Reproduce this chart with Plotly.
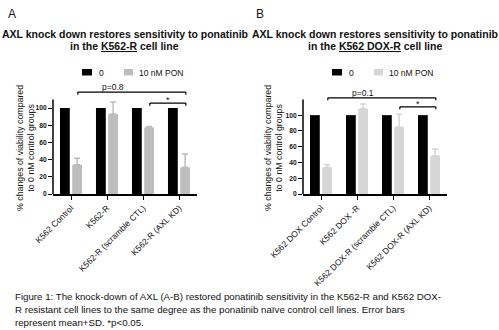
import plotly.graph_objects as go

# ---------------- data ----------------
cats_a = ["K562 Control", "K562-R", "K562-R (scramble CTL)", "K562-R (AXL KD)"]
cats_b = ["K562 DOX Control", "K562 DOX -R", "K562 DOX-R (scramble CTL)", "K562 DOX-R (AXL KD)"]
series_names = ["0", "10 nM PON"]
a_zero = [100, 100, 100, 100]
a_pon = [34, 93, 77.5, 31]
a_pon_sd = [7.5, 14, 1, 15.5]
b_zero = [100, 100, 100, 100]
b_pon = [33.7, 108, 85, 48.5]
b_pon_sd = [3.5, 6, 16, 8.5]
ytick_vals = [0, 20, 40, 60, 80, 100]

FONT = "Liberation Sans, Arial, sans-serif"
W, H = 499, 330
BLACK = "#000000"
GRAY_A = "#bdbdbd"
GRAY_B = "#d6d6d6"

fig = go.Figure()

def px_x(p):
    return p / W

def px_y(p):
    return 1 - p / H

dom_y = [px_y(194), px_y(84)]
dom_a = [px_x(53), px_x(197)]
dom_b = [px_x(303), px_x(447)]
range_a = [0, 128]
range_b = [0, 139.5]

for i, (cats, zero, pon, sd, gray, xa, ya) in enumerate([
    (cats_a, a_zero, a_pon, a_pon_sd, GRAY_A, "x", "y"),
    (cats_b, b_zero, b_pon, b_pon_sd, GRAY_B, "x2", "y2"),
]):
    xs = list(range(len(cats)))
    fig.add_trace(go.Bar(x=xs, y=zero, name=series_names[0], marker_color=BLACK,
                         marker_line_width=0, xaxis=xa, yaxis=ya, showlegend=False))
    fig.add_trace(go.Bar(x=xs, y=pon, name=series_names[1], marker_color=gray,
                         marker_line_width=0, xaxis=xa, yaxis=ya, showlegend=False,
                         error_y=dict(type="data", array=sd, arrayminus=[0] * len(sd),
                                      symmetric=False, color=gray, thickness=1.5, width=3)))

def xaxis_cfg(dom, cats, anchor):
    return dict(domain=dom, anchor=anchor, range=[-0.5, 3.5], tickmode="array",
                tickvals=list(range(len(cats))), ticktext=cats, tickangle=-45,
                showline=True, linecolor="black", linewidth=1.5, ticks="outside",
                ticklen=4, tickwidth=1, tickcolor="black", showgrid=False, zeroline=False,
                automargin=False,
                tickfont=dict(family=FONT, size=8.5, color="#111"))

def yaxis_cfg(rng, anchor):
    return dict(domain=dom_y, anchor=anchor, range=rng, tickmode="array",
                tickvals=ytick_vals, showline=False, ticks="outside", ticklen=4,
                tickwidth=1, tickcolor="black", showgrid=False, zeroline=False,
                automargin=False,
                tickfont=dict(family=FONT, size=6.7, color="#111", weight=700))

fig.update_layout(
    template="none",
    width=W, height=H, margin=dict(l=0, r=0, t=0, b=0, pad=0, autoexpand=False),
    font=dict(family=FONT, color="#111"),
    paper_bgcolor="white", plot_bgcolor="white",
    barmode="group", bargap=0.32, bargroupgap=0.2,
    xaxis=xaxis_cfg(dom_a, cats_a, "y"),
    yaxis=yaxis_cfg(range_a, "x"),
    xaxis2=xaxis_cfg(dom_b, cats_b, "y2"),
    yaxis2=yaxis_cfg(range_b, "x2"),
    showlegend=False,
)

shapes = []
annotations = []

# y-axis lines (axis extends slightly above the top tick)
for dom, rng, top in [(dom_a, range_a, 110), (dom_b, range_b, 120)]:
    ytop = dom_y[0] + (dom_y[1] - dom_y[0]) * top / rng[1]
    shapes.append(dict(type="line", xref="paper", yref="paper", x0=dom[0], x1=dom[0],
                       y0=dom_y[0], y1=ytop, line=dict(color="black", width=1.5)))

# significance brackets
def bracket(xa, ya, x0, x1, y, drop, label, lx, ly, size):
    shapes.append(dict(type="line", xref=xa, yref=ya, x0=x0, x1=x1, y0=y, y1=y,
                       line=dict(color="black", width=1.2)))
    for xx in (x0, x1):
        shapes.append(dict(type="line", xref=xa, yref=ya, x0=xx, x1=xx, y0=y, y1=y - drop,
                           line=dict(color="black", width=1.2)))
    annotations.append(dict(xref=xa, yref=ya, x=lx, y=ly, text=label, showarrow=False,
                            font=dict(family=FONT, size=size, color="#111"),
                            xanchor="center", yanchor="middle"))

off = 0.19
bracket("x", "y", 0 + off, 3 + off, 118.6, 3, "p=0.8", 1.17, 124.5, 8.5)
bracket("x", "y", 2 + off, 3 + off, 105.8, 3, "*", 2 + off + 0.5, 109, 9)
bracket("x2", "y2", 0 + off, 3 + off, 122, 3, "p=0.1", 1.17, 128.5, 8.5)
bracket("x2", "y2", 2 + off, 3 + off, 110.5, 3, "*", 2 + off + 0.5, 114.5, 9)

# legends (drawn manually to match the compact GraphPad style)
for base, gray in [(0, GRAY_A), (250, GRAY_B)]:
    for (sx0, sx1, tx), color, name in [((82, 92, 97), BLACK, series_names[0]),
                                         ((124, 133, 137), gray, series_names[1])]:
        shapes.append(dict(type="rect", xref="paper", yref="paper",
                           x0=px_x(base + sx0), x1=px_x(base + sx1),
                           y0=px_y(75.5), y1=px_y(69), fillcolor=color,
                           line=dict(width=0)))
        annotations.append(dict(xref="paper", yref="paper", x=px_x(base + tx), y=px_y(72.5),
                                text=name, showarrow=False, xanchor="left", yanchor="middle",
                                font=dict(family=FONT, size=8.5, color="#111")))

# panel letters and titles
for letter, lx, cx, under in [("A", 6, 125, "K562-R"), ("B", 254, 375, "K562 DOX-R")]:
    annotations.append(dict(xref="paper", yref="paper", x=px_x(lx), y=px_y(14), text=letter,
                            showarrow=False, xanchor="left", yanchor="middle",
                            font=dict(family=FONT, size=12, color="#111")))
    annotations.append(dict(xref="paper", yref="paper", x=px_x(cx), y=px_y(34),
                            text="<b>AXL knock down restores sensitivity to ponatinib</b>",
                            showarrow=False, xanchor="center", yanchor="middle",
                            font=dict(family=FONT, size=10.5, color="#111")))
    annotations.append(dict(xref="paper", yref="paper", x=px_x(cx), y=px_y(46),
                            text=f"<b>in the <u>{under}</u> cell line</b>",
                            showarrow=False, xanchor="center", yanchor="middle",
                            font=dict(family=FONT, size=10.5, color="#111")))
    # y-axis title
    annotations.append(dict(xref="paper", yref="paper", x=px_x(lx + 19), y=px_y(148),
                            text="% changes of viability compared<br>to 0 nM control groups",
                            showarrow=False, xanchor="center", yanchor="middle", textangle=-90,
                            font=dict(family=FONT, size=8.8, color="#111")))

caption = [
    "Figure 1: The knock-down of AXL (A-B) restored ponatinib sensitivity in the K562-R and K562 DOX-",
    "R resistant cell lines to the same degree as the ponatinib naïve control cell lines. Error bars",
    "represent mean+SD. *p<0.05.",
]
for k, line in enumerate(caption):
    annotations.append(dict(xref="paper", yref="paper", x=px_x(13), y=px_y(296 + 13 * k),
                            text=line, showarrow=False, xanchor="left", yanchor="middle",
                            font=dict(family=FONT, size=9.7, color="#111")))

fig.update_layout(shapes=shapes, annotations=annotations)
fig.write_html("out.html")
